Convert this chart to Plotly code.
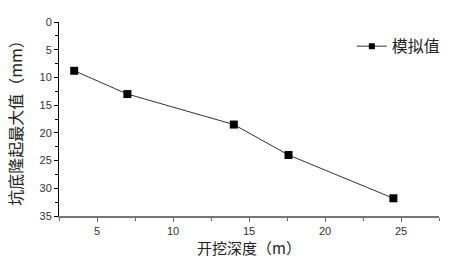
import plotly.graph_objects as go

depth = [3.5, 7.0, 14.0, 17.6, 24.5]
heave = [8.8, 13.0, 18.5, 24.0, 31.8]
series_name = "模拟值"
x_title = "开挖深度（m）"
y_title = "坑底隆起最大值（mm）"
x_ticks = [5, 10, 15, 20, 25]
y_ticks = [0, 5, 10, 15, 20, 25, 30, 35]

fig = go.Figure()
fig.add_trace(go.Scatter(
    x=depth, y=heave, mode="lines+markers", name=series_name, showlegend=False,
    line=dict(color="#333333", width=1),
    marker=dict(symbol="square", size=8, color="black"),
))
# legend entry (smaller marker as in the reference legend)
fig.add_trace(go.Scatter(
    x=[None], y=[None], mode="lines+markers", name=series_name, showlegend=True,
    line=dict(color="#333333", width=1),
    marker=dict(symbol="square", size=6, color="black"),
))

tick_font = dict(family="Liberation Sans, Arial, sans-serif", size=11, color="#333333")
cjk = "Noto Sans CJK SC, sans-serif"

fig.update_layout(
    width=458, height=260,
    margin=dict(l=59, r=19, t=22, b=44),
    plot_bgcolor="white", paper_bgcolor="white",
    showlegend=True,
    legend=dict(x=1.018, xanchor="right", y=0.875, yanchor="middle",
                font=dict(family=cjk, size=16, color="#222222"),
                bgcolor="rgba(0,0,0,0)", itemwidth=30),
    xaxis=dict(
        range=[2.5, 27.5], tickvals=x_ticks, ticks="outside", ticklen=4,
        tickcolor="#666666", showline=True, linecolor="#777777", linewidth=2,
        showgrid=False, zeroline=False, tickfont=tick_font,
        minor=dict(tickvals=[2.5, 7.5, 12.5, 17.5, 22.5, 27.5], ticks="outside",
                   ticklen=3, tickcolor="#666666"),
        title=dict(text=x_title, font=dict(family=cjk, size=15, color="#222222"), standoff=0),
    ),
    yaxis=dict(
        range=[35, 0], tickvals=y_ticks, ticks="outside", ticklen=4,
        tickcolor="black", showline=True, linecolor="black", linewidth=1,
        showgrid=False, zeroline=False, tickfont=tick_font,
        minor=dict(tickvals=[2.5, 7.5, 12.5, 17.5, 22.5, 27.5, 32.5], ticks="outside",
                   ticklen=3, tickcolor="black"),
        title=dict(text=y_title, font=dict(family=cjk, size=16, color="#222222"), standoff=12),
    ),
)

fig.write_html("out.html")
